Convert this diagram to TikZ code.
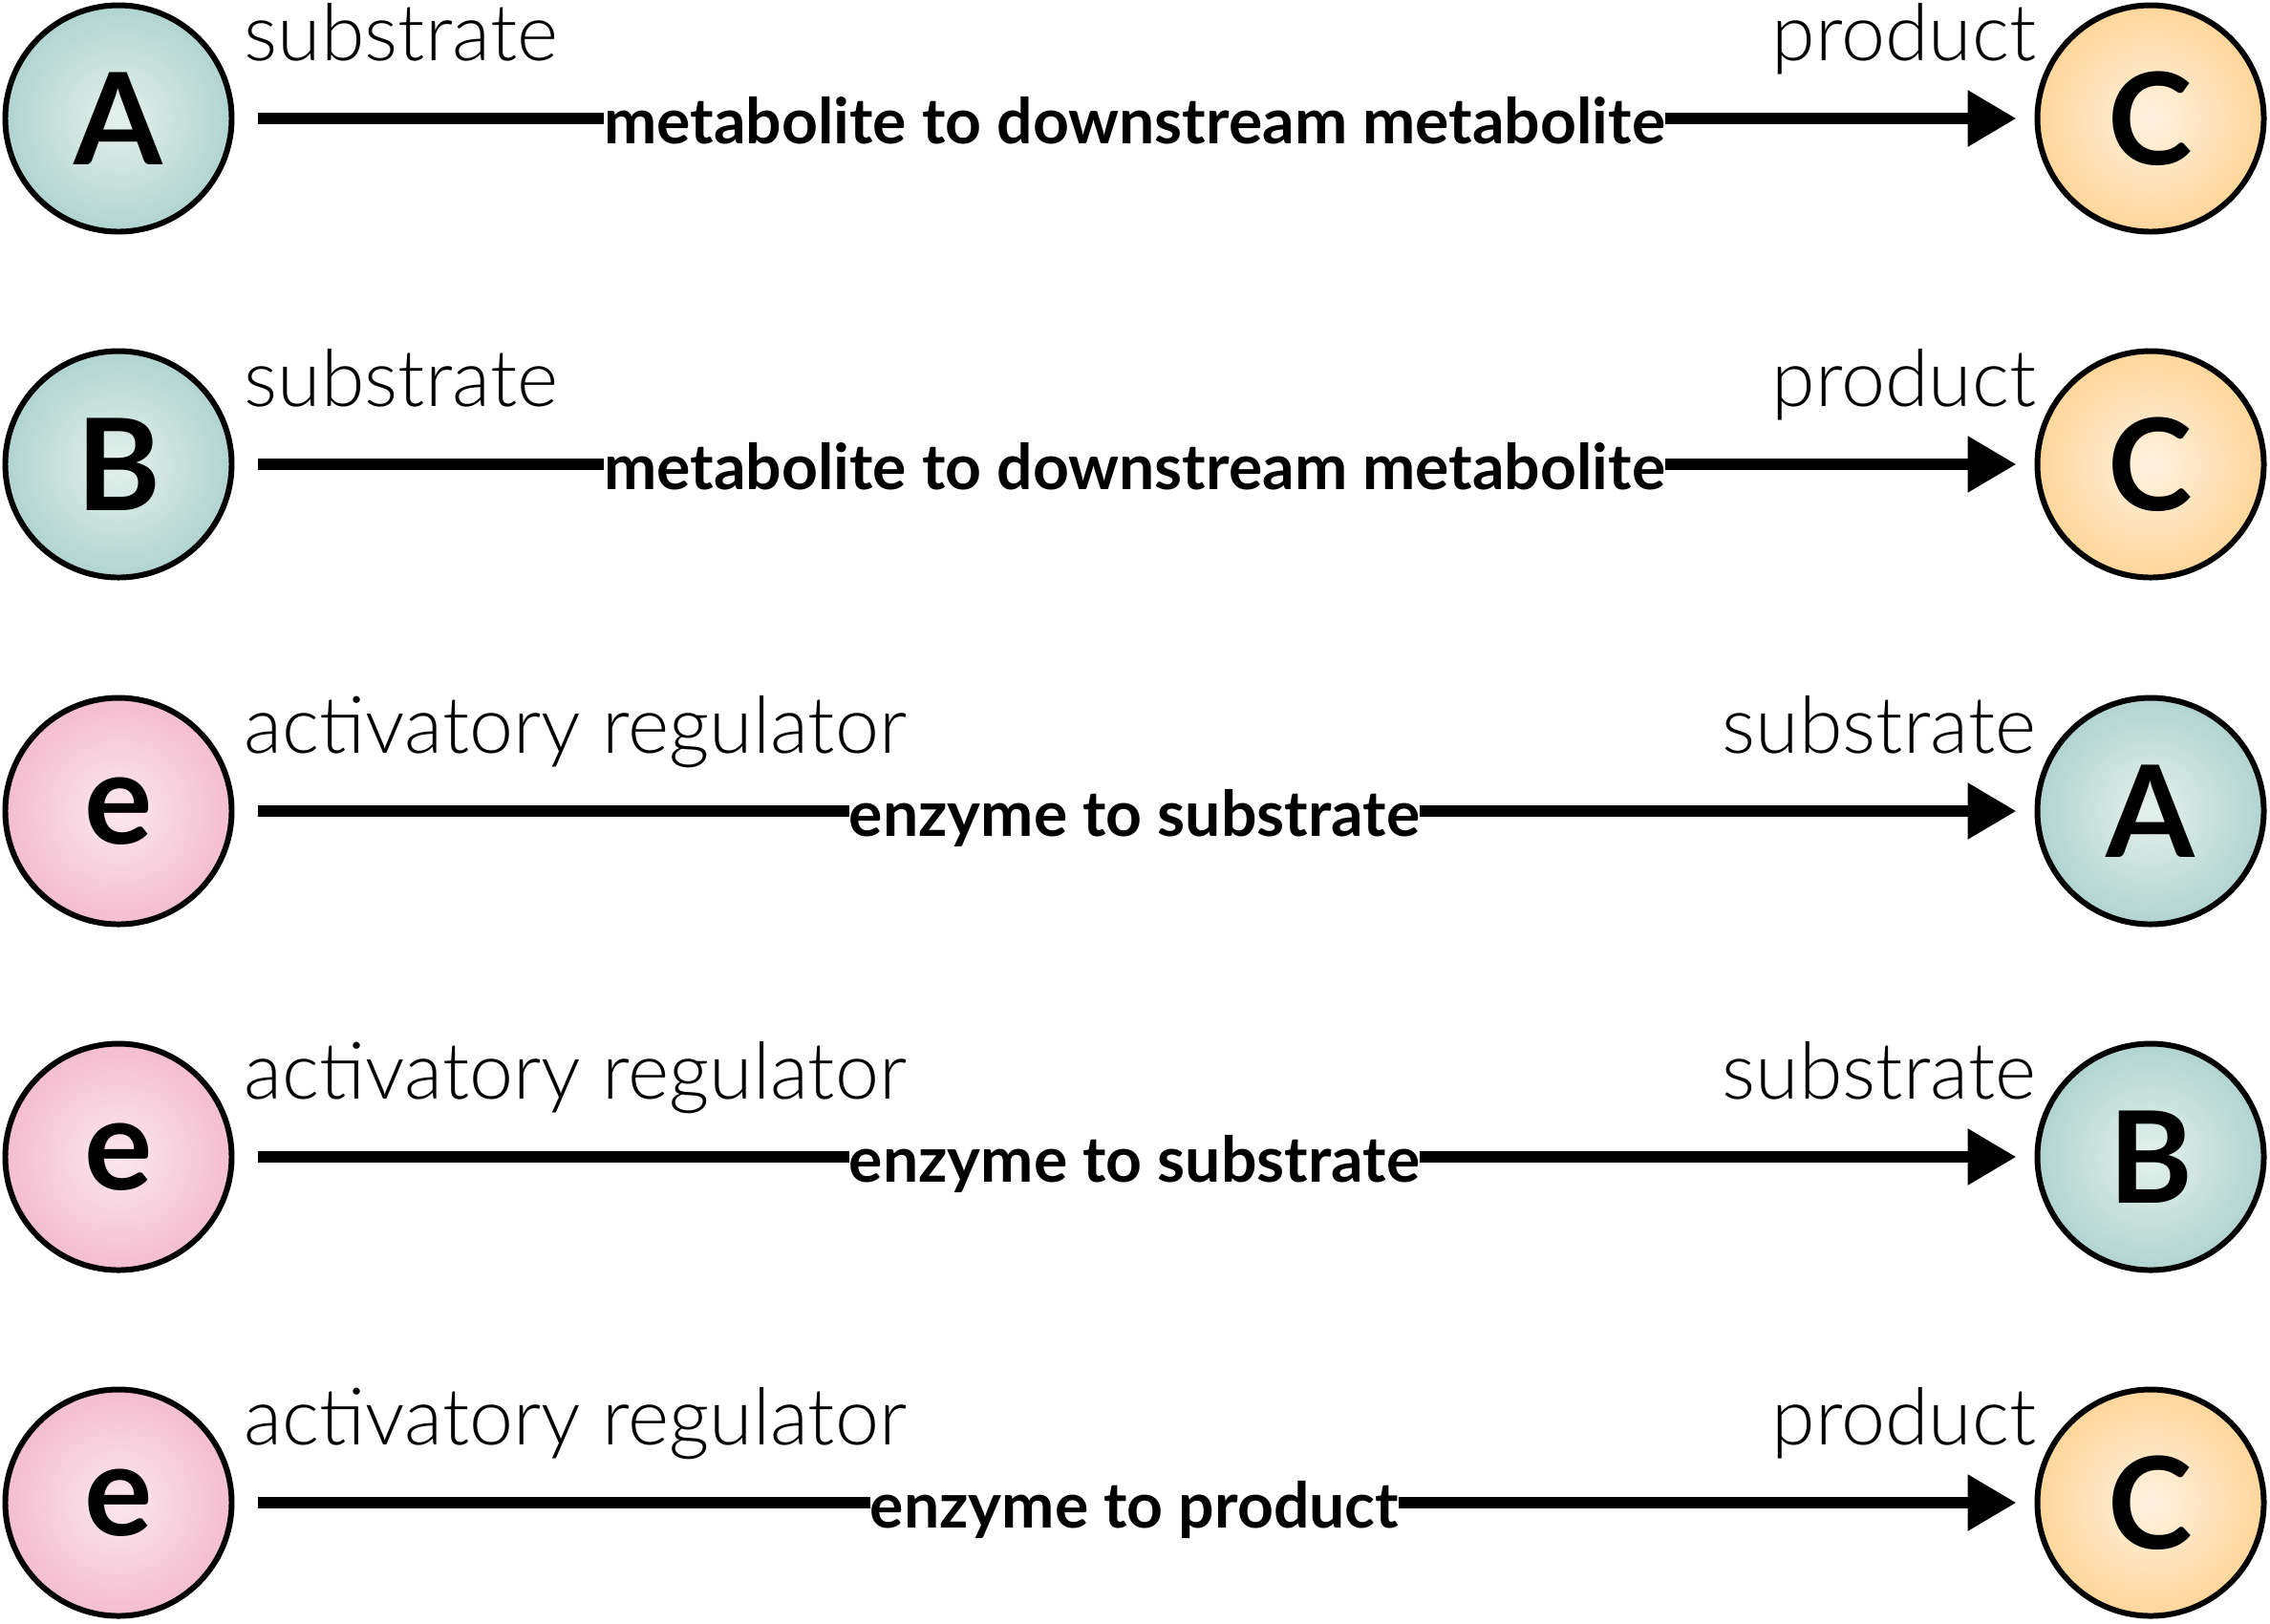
\documentclass[tikz,border=0pt]{standalone}
\usepackage{fontspec}
\setmainfont{Lato}
\newfontfamily\lightfont{Lato Light}
\usetikzlibrary{arrows.meta}
\usetikzlibrary{positioning}

\definecolor{tealout}{RGB}{138,190,186}
\definecolor{tealin}{RGB}{228,241,236}
\definecolor{orangeout}{RGB}{253,192,100}
\definecolor{orangein}{RGB}{255,242,225}
\definecolor{pinkout}{RGB}{238,156,184}
\definecolor{pinkin}{RGB}{251,232,238}

\pgfdeclareradialshading{tealball}{\pgfpoint{0bp}{0bp}}{color(0bp)=(tealin); color(44bp)=(tealout); color(50bp)=(tealout)}
\pgfdeclareradialshading{orangeball}{\pgfpoint{0bp}{0bp}}{color(0bp)=(orangein); color(44bp)=(orangeout); color(50bp)=(orangeout)}
\pgfdeclareradialshading{pinkball}{\pgfpoint{0bp}{0bp}}{color(0bp)=(pinkin); color(44bp)=(pinkout); color(50bp)=(pinkout)}

\tikzset{
    metab/.style={
        draw,
        circle,
        line width=1.7pt,
        minimum size=2.37cm,
        inner sep=0pt,
        font=\fontsize{38pt}{40pt}\selectfont\bfseries
    },
    subst/.style={metab, shading=tealball},
    prod/.style={metab, shading=orangeball},
    enz/.style={metab, shading=pinkball},
    role/.style={
        inner sep=0pt,
        font=\lightfont\fontsize{23.5pt}{26pt}\selectfont
    },
    link/.style={
        line width=0.12cm,
        -{Triangle[length=0.51cm, width=0.56cm]},
        shorten <=0.25cm,
        shorten >=0.19cm
    },
    linklabel/.style={
        fill=white,
        inner sep=0pt,
        anchor=base,
        yshift=-0.26cm,
        font=\fontsize{18.8pt}{21pt}\selectfont\bfseries
    }
}

\begin{document}
\begin{tikzpicture}
  \useasboundingbox (0,0) rectangle (23.76,-16.99);

  % metabolite to downstream metabolite
  \node[subst] (a1) at (1.24,-1.24) {A};
  \node[prod] (c1) at (22.51,-1.24) {C};
  \node[role, anchor=base west] (s1) at (2.55,-0.63) {substrate};
  \node[role, anchor=base east] (p1) at (21.32,-0.63) {product};
  \draw[link] (a1) -- node[linklabel] {metabolite to downstream metabolite} (c1);

  \node[subst] (b2) at (1.24,-4.86) {B};
  \node[prod] (c2) at (22.51,-4.86) {C};
  \node[role, anchor=base west] (s2) at (2.55,-4.25) {substrate};
  \node[role, anchor=base east] (p2) at (21.32,-4.25) {product};
  \draw[link] (b2) -- node[linklabel] {metabolite to downstream metabolite} (c2);

  % enzyme rows
  \node[enz] (e3) at (1.24,-8.49) {e};
  \node[subst] (a3) at (22.51,-8.49) {A};
  \node[role, anchor=base west] (r3) at (2.55,-7.88) {activatory regulator};
  \node[role, anchor=base east] (s3) at (21.32,-7.88) {substrate};
  \draw[link] (e3) -- node[linklabel] {enzyme to substrate} (a3);

  \node[enz] (e4) at (1.24,-12.11) {e};
  \node[subst] (b4) at (22.51,-12.11) {B};
  \node[role, anchor=base west] (r4) at (2.55,-11.50) {activatory regulator};
  \node[role, anchor=base east] (s4) at (21.32,-11.50) {substrate};
  \draw[link] (e4) -- node[linklabel] {enzyme to substrate} (b4);

  \node[enz] (e5) at (1.24,-15.73) {e};
  \node[prod] (c5) at (22.51,-15.73) {C};
  \node[role, anchor=base west] (r5) at (2.55,-15.12) {activatory regulator};
  \node[role, anchor=base east] (p5) at (21.32,-15.12) {product};
  \draw[link] (e5) -- node[linklabel] {enzyme to product} (c5);
\end{tikzpicture}
\end{document}
